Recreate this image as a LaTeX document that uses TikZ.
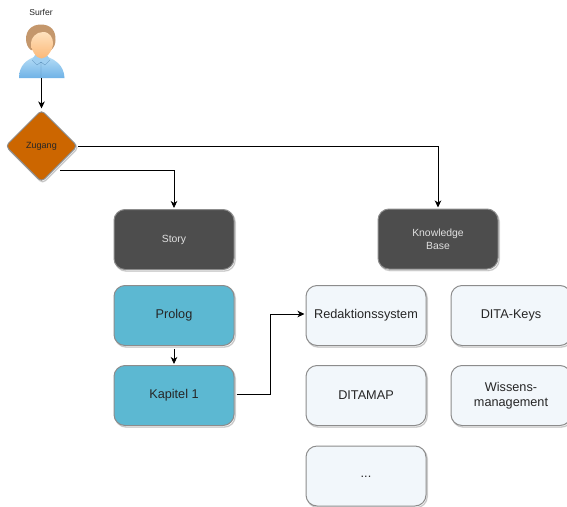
\documentclass[tikz,border=0pt]{standalone}
\usepackage{fontspec}
\setmainfont{Liberation Sans}
\usetikzlibrary{shadows,arrows.meta,shapes.geometric,positioning}
\definecolor{darkbox}{HTML}{4D4D4D}
\definecolor{bluebox}{HTML}{5CB8D2}
\definecolor{lightbox}{HTML}{F2F7FB}
\definecolor{edgegray}{HTML}{8C8C8C}
\definecolor{orangebox}{HTML}{CC6600}
\definecolor{hair}{HTML}{C4976C}
\definecolor{bodytop}{HTML}{B4DCF6}
\definecolor{bodybot}{HTML}{6FB2E6}
\definecolor{facetop}{HTML}{FFE2BE}
\definecolor{facebot}{HTML}{FBB878}
\tikzset{
  x=1pt,y=-1pt,
  softshadow/.style={preaction={draw=black,opacity=.13,line width=1.6pt,transform canvas={shift={(1.2pt,-1.6pt)}}},
                     preaction={draw=black,opacity=.13,line width=.6pt,transform canvas={shift={(1.2pt,-1.6pt)}}}},
  card/.style={rectangle,rounded corners=11pt,minimum width=120pt,minimum height=60pt,draw=edgegray,line width=1pt,softshadow,align=center,inner sep=0pt},
  darkcard/.style={card,fill=darkbox,text=white!88!black,font=\fontsize{10.4}{13}\selectfont},
  bluecard/.style={card,fill=bluebox,text=black!85,font=\fontsize{12.7}{15}\selectfont},
  lightcard/.style={card,fill=lightbox,text=black!85,font=\fontsize{12.7}{15.5}\selectfont},
  link/.style={draw=black,line width=.8pt,-{Stealth[length=7pt,width=6.5pt,inset=2pt]}},
}
\begin{document}
\begin{tikzpicture}
\useasboundingbox (0,0) rectangle (567,506);
\node[font=\fontsize{8.6}{10}\selectfont,text=black!85] (surfer) at (41,12.5) {Surfer};
% person
\coordinate (personbottom) at (41.5,78);
\shade[top color=bodytop,bottom color=bodybot,draw=none]
  (19,78) .. controls (19,65) and (27,60) .. (34,57) -- (48,57) .. controls (55,60) and (64,65) .. (64.5,78) -- cycle;
\fill[bodytop!70!bodybot] (32,60) -- (37,65) -- (41,62) -- (45,65) -- (50,60) -- (47,55) -- (35,55) -- cycle;
\draw[bodybot!80!black,line width=.3pt] (32,60) -- (37,65) -- (41,62) -- (45,65) -- (50,60) (41,62) -- (41,78);
\fill[hair] (41,24.5) .. controls (51,24.5) and (56,31) .. (55.5,40) .. controls (55.5,44) and (54,48) .. (51,50) -- (31,50) .. controls (28,48) and (26,44) .. (26,39) .. controls (26,31) and (31,24.5) .. (41,24.5) -- cycle;
\shade[top color=facetop,bottom color=facebot] (43,32) .. controls (50,32) and (53,38) .. (53,43) .. controls (53,50) and (47,58.5) .. (41.5,58.5) .. controls (36,58.5) and (31,50) .. (31,43) .. controls (31,38) and (36,32) .. (43,32) -- cycle;
% diamond
\node[diamond,aspect=1,minimum size=72pt,inner sep=0pt,rounded corners=4pt,fill=orangebox,draw=edgegray,line width=1pt,softshadow,font=\fontsize{9}{10}\selectfont,text=black!85] (zugang) at (41.5,146) {Zugang};
% cards
\node[darkcard] (story) at (174,239.5) {Story};
\node[darkcard] (kb) at (438,239) {Knowledge\\Base};
\node[bluecard] (prolog) at (174,315.5) {Prolog};
\node[bluecard] (kap) at (174,395.5) {Kapitel 1};
\node[lightcard] (redak) at (366,315.5) {Redaktionssystem};
\node[lightcard] (ditakeys) at (511,315.5) {DITA-Keys};
\node[lightcard] (ditamap) at (366,395.5) {DITAMAP};
\node[lightcard] (wissen) at (511,395.5) {Wissens-\\management};
\node[lightcard] (dots) at (366,476) {\raisebox{-1.5pt}[0pt][0pt]{...}};
% connectors
\coordinate (zr) at (78,146);
\coordinate (zb) at (60,170);
\draw[link] (personbottom) -- ([yshift=1pt]zugang.north);
\draw[link] (zr) -| ([yshift=1pt]kb.north);
\draw[link] (zb) -| ([yshift=1pt]story.north);
\draw[link] ([yshift=-3pt]prolog.south) -- ([yshift=1pt]kap.north);
\draw[link] ([xshift=2pt,yshift=1pt]kap.east) -- ++(34,0) |- ([xshift=-1pt,yshift=1.5pt]redak.west);
\end{tikzpicture}
\end{document}
